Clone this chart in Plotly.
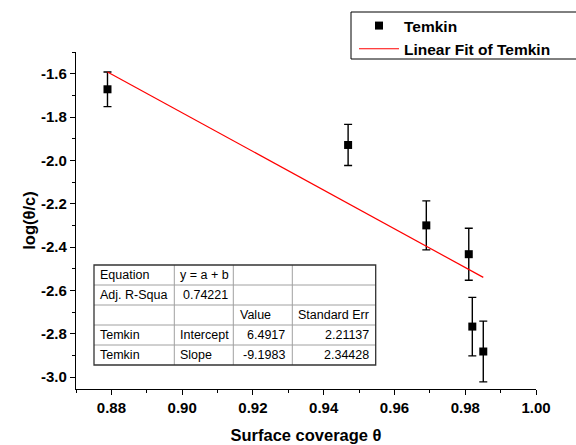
import plotly.graph_objects as go

# ---- data ----
theta = [0.8789, 0.9469, 0.9690, 0.9810, 0.9820, 0.9851]
log_ratio = [-1.672, -1.929, -2.300, -2.433, -2.767, -2.882]
err = [0.080, 0.095, 0.113, 0.120, 0.135, 0.140]

fit_x = [0.8789, 0.9851]
fit_y = [-1.592, -2.540]

x_tickvals = [0.88, 0.90, 0.92, 0.94, 0.96, 0.98, 1.00]
x_ticktext = ["0.88", "0.90", "0.92", "0.94", "0.96", "0.98", "1.00"]
y_tickvals = [-1.6, -1.8, -2.0, -2.2, -2.4, -2.6, -2.8, -3.0]
y_ticktext = ["-1.6", "-1.8", "-2.0", "-2.2", "-2.4", "-2.6", "-2.8", "-3.0"]

table_rows = [
    ["Equation", "y = a + b", "", ""],
    ["Adj. R-Squa", "0.74221", "", ""],
    ["", "", "Value", "Standard Err"],
    ["Temkin", "Intercept", "6.4917", "2.21137"],
    ["Temkin", "Slope", "-9.1983", "2.34428"],
]

# ---- layout geometry (pixels) ----
W, H = 576, 445
ML, MR, MT, MB = 76, 40, 52, 56
PW, PH = W - ML - MR, H - MT - MB
FONT = "Arial, Liberation Sans, sans-serif"


def px(x):
    return (x - ML) / PW


def py(y):
    return 1 - (y - MT) / PH


fig = go.Figure()
fig.add_trace(go.Scatter(
    x=theta, y=log_ratio, mode="markers", name="Temkin",
    marker=dict(symbol="square", size=8, color="black"),
    error_y=dict(type="data", array=err, color="black", thickness=1.4, width=4),
))
fig.add_trace(go.Scatter(
    x=fit_x, y=fit_y, mode="lines", name="Linear Fit of Temkin",
    line=dict(color="#ff0000", width=1.2),
))

axis_common = dict(
    showline=True, linecolor="black", linewidth=1.4, showgrid=False, zeroline=False,
    ticks="outside", ticklen=5, tickwidth=1.4, tickcolor="black", mirror=False,
    automargin=False,
    tickfont=dict(family=FONT, size=15, color="black", weight="bold"),
)

fig.update_layout(
    width=W, height=H,
    margin=dict(l=ML, r=MR, t=MT, b=MB, autoexpand=False),
    paper_bgcolor="white", plot_bgcolor="white",
    font=dict(family=FONT, color="black"),
    xaxis=dict(
        range=[0.87, 1.0], tickvals=x_tickvals, ticktext=x_ticktext,
        minor=dict(ticks="outside", ticklen=3, tickwidth=1.4, tickcolor="black", dtick=0.01, tick0=0.87),
        title=dict(text="Surface coverage θ", font=dict(family=FONT, size=16.5, weight="bold"), standoff=14),
        **axis_common,
    ),
    yaxis=dict(
        range=[-3.055, -1.5], tickvals=y_tickvals, ticktext=y_ticktext,
        minor=dict(ticks="outside", ticklen=3, tickwidth=1.4, tickcolor="black", dtick=0.1, tick0=-1.5),
        title=dict(text="log(θ/c)", font=dict(family=FONT, size=16.5, weight="bold"), standoff=1),
        **axis_common,
    ),
    legend=dict(
        x=px(354), y=py(9), xanchor="left", yanchor="top",
        bgcolor="rgba(0,0,0,0)", borderwidth=0,
        font=dict(family=FONT, size=15.5, color="black", weight="bold"),
        tracegroupgap=0, itemwidth=40,
    ),
)

shapes = []
annotations = []
# legend frame (extends beyond right edge as in reference)
shapes.append(dict(type="rect", xref="paper", yref="paper",
                   x0=px(351), x1=px(600), y0=py(59), y1=py(12),
                   line=dict(color="black", width=1)))

# fit-results table
col_x = [94, 174.3, 233.3, 292.3, 375.7]
row_y = [265, 285, 305, 325, 345, 365]
for cx in col_x[1:-1]:
    shapes.append(dict(type="line", xref="paper", yref="paper",
                       x0=px(cx), x1=px(cx), y0=py(row_y[0]), y1=py(row_y[-1]),
                       line=dict(color="#a0a0a0", width=1)))
for ry in row_y[1:-1]:
    shapes.append(dict(type="line", xref="paper", yref="paper",
                       x0=px(col_x[0]), x1=px(col_x[-1]), y0=py(ry), y1=py(ry),
                       line=dict(color="#a0a0a0", width=1)))
shapes.append(dict(type="rect", xref="paper", yref="paper",
                   x0=px(col_x[0]), x1=px(col_x[-1]), y0=py(row_y[-1]), y1=py(row_y[0]),
                   line=dict(color="#333333", width=1.3)))

# text anchors per column: (x pixel, anchor)
col_anchor = [(98, "left"), (178, "left"), (238, "left"), (371, "right")]
right_aligned_cells = {(1, 1): (230, "right"), (3, 2): (287, "right"), (4, 2): (287, "right"),
                       (3, 3): (371, "right"), (4, 3): (371, "right")}
for r, row in enumerate(table_rows):
    yc = (row_y[r] + row_y[r + 1]) / 2
    for c, txt in enumerate(row):
        if not txt:
            continue
        ax_, anc = right_aligned_cells.get((r, c), col_anchor[c])
        annotations.append(dict(text=txt, xref="paper", yref="paper",
                                x=px(ax_), y=py(yc), xanchor=anc, yanchor="middle",
                                showarrow=False, font=dict(family=FONT, size=12.5, color="black")))

fig.update_layout(shapes=shapes, annotations=annotations)
fig.write_html("out.html")
